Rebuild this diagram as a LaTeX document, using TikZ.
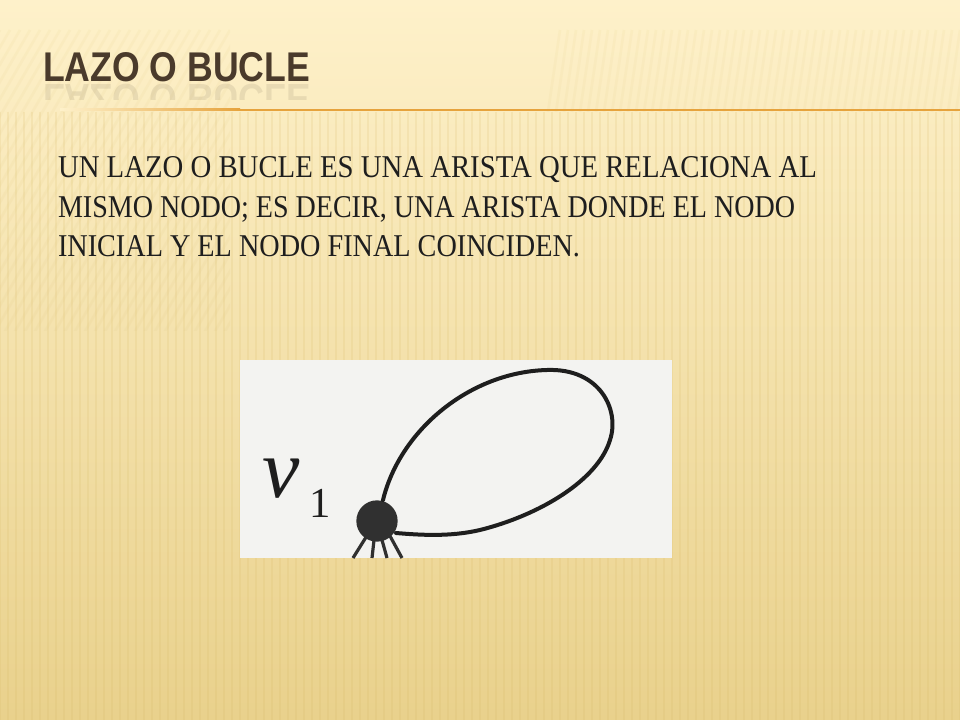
\documentclass[tikz,border=0pt]{standalone}
\usepackage{fontspec}
\setmainfont{Liberation Serif}
\newfontfamily\titlefont{Liberation Sans}
\usetikzlibrary{fadings}
\definecolor{bgtop}{HTML}{FEF1CA}
\definecolor{bgmid}{HTML}{F8E7B3}
\definecolor{bgbot}{HTML}{E9D18C}
\definecolor{stripe}{HTML}{D6B862}
\definecolor{titlebrown}{HTML}{4A3A2B}
\definecolor{rulec}{HTML}{E6A33D}
\definecolor{photo}{HTML}{F3F3F1}
\definecolor{ink}{HTML}{1E1E1E}
\definecolor{dotc}{HTML}{303030}
\tikzset{
  bodyline/.style={anchor=base west, inner sep=0pt, outer sep=0pt, text=ink},
  titletext/.style={anchor=base west, inner sep=0pt, outer sep=0pt, text=titlebrown},
  loopline/.style={draw=ink, line width=3pt, line cap=round},
  legline/.style={draw=dotc, line width=2.4pt},
}
\begin{document}
\begin{tikzpicture}[x=0.75pt,y=-0.75pt]
\useasboundingbox (0,0) rectangle (960,720);
% background
\shade[top color=bgtop, middle color=bgmid, bottom color=bgbot] (0,0) rectangle (960,720);
\begin{scope}
  \clip (0,0) rectangle (960,720);
  \foreach \x in {0,8,...,960} \draw[stripe, opacity=0.16, line width=2.2pt] (\x,112) -- (\x,720);
  \foreach \x in {560,568,...,1000} \draw[stripe, opacity=0.07, line width=2pt] (\x,30) -- (\x-12,112);
\end{scope}
\begin{scope}
  \clip (0,0) rectangle (230,330);
  \foreach \x in {-300,-290,...,240} \draw[stripe, opacity=0.07, line width=2pt] (\x,340) -- (\x+180,30);
\end{scope}
% title
\node[titletext] (title) at (43,82) {\resizebox{200.25pt}{21.75pt}{\titlefont\bfseries LAZO O BUCLE}};
\begin{scope}
  \clip (0,84) rectangle (400,100);
  \node[titletext, yscale=-1, opacity=0.10] (titlerefl) at (43,85) {\resizebox{200.25pt}{21.75pt}{\titlefont\bfseries LAZO O BUCLE}};
\end{scope}
% rule
\fill[left color=bgtop, right color=rulec] (60,109) rectangle (240,111);
\fill[rulec] (240,109) rectangle (960,111);
% body text
\node[bodyline] (l1) at (58,178) {\resizebox{569.25pt}{15.75pt}{UN LAZO O BUCLE ES UNA ARISTA QUE RELACIONA AL}};
\node[bodyline] (l2) at (58,218) {\resizebox{552.75pt}{15.75pt}{MISMO NODO; ES DECIR, UNA ARISTA DONDE EL NODO}};
\node[bodyline] (l3) at (58,257) {\resizebox{391.5pt}{15.75pt}{INICIAL Y EL NODO FINAL COINCIDEN.}};
% picture
\fill[photo] (240,360) rectangle (672,558);
\node[anchor=base west, inner sep=0pt, text=ink] (vlab) at (262,497) {\fontsize{63}{63}\selectfont\itshape v};
\node[anchor=base west, inner sep=0pt, text=ink] (sublab) at (309,517) {\fontsize{32}{32}\selectfont 1};
\begin{scope}
  \clip (240,360) rectangle (672,558);
  \draw[legline] (368,534) -- (353,558);
  \draw[legline] (374,540) -- (372,558);
  \draw[legline] (382,540) -- (387,558);
  \draw[legline] (390,536) -- (402,558);
\end{scope}
\node[circle, fill=dotc, inner sep=0pt, minimum size=31pt] (v1) at (377,521) {};
\coordinate (ls) at (383,500);
\coordinate (le) at (396,533);
\draw[loopline] (ls) .. controls (400,430) and (470,372) .. (547,370)
  .. controls (600,368) and (620,410) .. (610,440)
  .. controls (598,480) and (540,515) .. (480,530)
  .. controls (450,537) and (420,535) .. (le);
\end{tikzpicture}
\end{document}
